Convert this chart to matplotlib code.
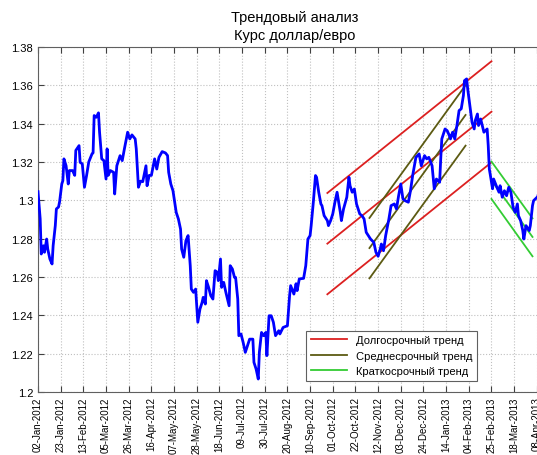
import numpy as np
import pandas as pd
import matplotlib
matplotlib.use("Agg")
import matplotlib.pyplot as plt
import matplotlib.dates as mdates
from matplotlib.ticker import FuncFormatter, MultipleLocator

plt.rcParams['font.family'] = ['Liberation Sans', 'DejaVu Sans']

# курс доллар/евро, дни от 02-Jan-2012
start_date = pd.Timestamp('2012-01-02')
days = [0, 2, 3, 5, 6, 8, 9, 11, 13, 14, 16, 17, 19, 20, 22, 23, 24, 26, 28, 29,
        31, 32, 34, 35, 38, 39, 41, 43, 45, 47, 50, 51, 52, 54, 56, 57, 59, 61, 63, 64,
        65, 67, 70, 71, 73, 76, 78, 80, 83, 85, 87, 90, 91, 93, 95, 97, 100, 101, 103, 105,
        108, 110, 112, 115, 118, 120, 121, 123, 125, 128, 130, 132, 133, 135, 137, 139, 141, 142, 144, 146,
        148, 150, 152, 153, 155, 156, 158, 160, 162, 164, 166, 167, 169, 170, 172, 174, 177, 178, 180, 182,
        183, 185, 186, 188, 190, 192, 194, 196, 199, 200, 202, 204, 205, 207, 209, 211, 212, 214, 216, 218,
        220, 223, 224, 227, 231, 233, 234, 237, 239, 240, 242, 246, 248, 250, 252, 253, 255, 257, 258, 260,
        262, 263, 265, 268, 269, 271, 273, 275, 277, 278, 280, 281, 283, 286, 288, 289, 291, 293, 295, 298,
        300, 302, 304, 307, 308, 311, 313, 315, 317, 318, 320, 322, 325, 327, 330, 332, 334, 336, 338, 340,
        343, 345, 347, 350, 353, 355, 358, 360, 362, 365, 367, 369, 372, 373, 374, 377, 379, 381, 382, 384,
        386, 388, 390, 392, 394, 395, 397, 398, 399, 401, 402, 404, 405, 407, 408, 410, 413, 416, 417, 418,
        419, 421, 422, 425, 427, 428, 430, 432, 434, 436, 438, 440, 442, 444, 445, 447, 449, 450, 452, 453,
        455, 456, 458, 459, 463, 465]
rate = [1.3045, 1.2903, 1.2720, 1.2763, 1.2729, 1.2798, 1.2746, 1.2694, 1.2668, 1.2763,
        1.2868, 1.2955, 1.2965, 1.2993, 1.3085, 1.3102, 1.3216, 1.3180, 1.3085, 1.3155,
        1.3155, 1.3155, 1.3130, 1.3260, 1.3285, 1.3198, 1.3190, 1.3068, 1.3130, 1.3200,
        1.3242, 1.3247, 1.3442, 1.3433, 1.3456, 1.3355, 1.3216, 1.3207, 1.3111, 1.3268,
        1.3130, 1.3155, 1.3146, 1.3033, 1.3180, 1.3233, 1.3207, 1.3268, 1.3355, 1.3320,
        1.3341, 1.3320, 1.3268, 1.3068, 1.3100, 1.3097, 1.3180, 1.3076, 1.3130, 1.3130,
        1.3216, 1.3163, 1.3224, 1.3254, 1.3247, 1.3233, 1.3146, 1.3085, 1.3050, 1.2937,
        1.2903, 1.2850, 1.2746, 1.2703, 1.2790, 1.2816, 1.2659, 1.2537, 1.2520, 1.2537,
        1.2364, 1.2433, 1.2468, 1.2494, 1.2459, 1.2581, 1.2546, 1.2503, 1.2485, 1.2633,
        1.2625, 1.2581, 1.2694, 1.2546, 1.2572, 1.2520, 1.2450, 1.2659, 1.2642, 1.2598,
        1.2598, 1.2485, 1.2294, 1.2303, 1.2259, 1.2207, 1.2242, 1.2276, 1.2276, 1.2155,
        1.2120, 1.2068, 1.2207, 1.2311, 1.2294, 1.2311, 1.2190, 1.2398, 1.2398, 1.2364,
        1.2294, 1.2320, 1.2303, 1.2337, 1.2346, 1.2502, 1.2555, 1.2511, 1.2565, 1.2529,
        1.2590, 1.2593, 1.2659, 1.2798, 1.2816, 1.2868, 1.2990, 1.3129, 1.3120, 1.3042,
        1.2981, 1.2972, 1.2920, 1.2894, 1.2868, 1.2894, 1.2929, 1.2990, 1.3042, 1.3007,
        1.2937, 1.2894, 1.2955, 1.3016, 1.3120, 1.3076, 1.3042, 1.3059, 1.2981, 1.2929,
        1.2920, 1.2903, 1.2833, 1.2807, 1.2798, 1.2781, 1.2729, 1.2708, 1.2746, 1.2772,
        1.2737, 1.2816, 1.2903, 1.2972, 1.2981, 1.2955, 1.3024, 1.3085, 1.3007, 1.2998,
        1.2990, 1.3050, 1.3129, 1.3224, 1.3242, 1.3180, 1.3233, 1.3216, 1.3224, 1.3180,
        1.3060, 1.3111, 1.3094, 1.3216, 1.3320, 1.3372, 1.3363, 1.3337, 1.3320, 1.3355,
        1.3320, 1.3390, 1.3468, 1.3477, 1.3546, 1.3624, 1.3633, 1.3580, 1.3537, 1.3450,
        1.3407, 1.3372, 1.3416, 1.3450, 1.3390, 1.3424, 1.3355, 1.3372, 1.3285, 1.3163,
        1.3130, 1.3060, 1.3111, 1.3068, 1.3042, 1.3076, 1.3016, 1.3050, 1.3024, 1.3068,
        1.3042, 1.2964, 1.2937, 1.2981, 1.2920, 1.2894, 1.2842, 1.2798, 1.2868, 1.2859,
        1.2842, 1.2868, 1.2972, 1.2998, 1.3020, 1.3090]

# трендовые каналы: (начало, конец), уровни на концах
long_dates = ['2012-09-26', '2013-02-25']
long_lines = [(1.3038, 1.3725), (1.2774, 1.3462), (1.2510, 1.3198)]
mid_dates = ['2012-11-04', '2013-02-01']
mid_lines = [(1.2908, 1.3600), (1.2751, 1.3445), (1.2593, 1.3285)]
short_dates = ['2013-02-25', '2013-04-04']
short_lines = [(1.3202, 1.2906), (1.3104, 1.2809), (1.3007, 1.2708)]

x_end = pd.Timestamp('2013-04-22')

fig = plt.figure(figsize=(5.37, 4.56), dpi=100)
ax = fig.add_axes([0.0708, 0.138, 0.957, 0.757])

dates = start_date + pd.to_timedelta(days, unit='D')

trend_sets = [
    (long_dates, long_lines, '#dc2020', 'Долгосрочный тренд'),
    (mid_dates, mid_lines, '#5c5a12', 'Среднесрочный тренд'),
    (short_dates, short_lines, '#33cc33', 'Краткосрочный тренд'),
]
for tdates, tlines, color, label in trend_sets:
    td = pd.to_datetime(tdates)
    for i, (v0, v1) in enumerate(tlines):
        ax.plot(td, [v0, v1], color=color, lw=1.3, zorder=2,
                label=label if i == 0 else None)

ax.plot(dates, rate, color='#0000ff', lw=2, zorder=3)

ax.set_xlim(start_date, x_end)
ax.set_ylim(1.2, 1.38)
ax.yaxis.set_major_locator(MultipleLocator(0.02))
ax.yaxis.set_major_formatter(FuncFormatter(lambda v, p: '%g' % round(v, 2)))

ticks = pd.date_range(start_date, x_end, freq='21D')
ax.set_xticks(ticks)
ax.xaxis.set_major_formatter(mdates.DateFormatter('%d-%b-%Y'))
plt.setp(ax.get_xticklabels(), rotation=90)

ax.tick_params(direction='in', top=True, right=True, length=4, color='#404040')
ax.tick_params(axis='y', labelsize=8)
ax.tick_params(axis='x', labelsize=7, pad=3)
ax.grid(True, linestyle=':', color='#c0c0c0', lw=0.8)
for s in ax.spines.values():
    s.set_color('#606060')

ax.set_title('Трендовый анализ\nКурс доллар/евро', fontsize=10.5, pad=6,
             linespacing=1.35)

leg = ax.legend(loc='lower left', bbox_to_anchor=(0.522, 0.033), fontsize=8,
                fancybox=False, framealpha=1, edgecolor='#606060',
                handlelength=3.3, borderaxespad=0)
leg.get_frame().set_linewidth(0.8)

fig.savefig('out.png', dpi=100)
